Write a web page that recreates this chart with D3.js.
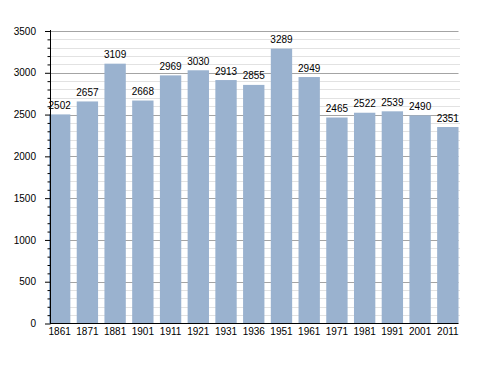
<!DOCTYPE html>
<html><head><meta charset="utf-8">
<script src="https://cdn.jsdelivr.net/npm/d3@7"></script>
<style>body{margin:0;background:#fff}svg{display:block}text{font-family:"Liberation Sans",Arial,sans-serif}</style>
</head><body>
<svg id="c" width="488" height="373"></svg>
<script>
const years = ["1861","1871","1881","1901","1911","1921","1931","1936","1951","1961","1971","1981","1991","2001","2011"];
const population = [2502,2657,3109,2668,2969,3030,2913,2855,3289,2949,2465,2522,2539,2490,2351];
const yTicks = [0,500,1000,1500,2000,2500,3000,3500];

const svg = d3.select("#c");
const x = d3.scaleBand().domain(years).range([49, 458.5]).paddingInner(0.23).paddingOuter(0);
const y = d3.scaleLinear().domain([0, 3500]).range([323.5, 31]);
const minor = d3.range(0, 3501, 100).filter(v => v % 500 !== 0);

// grid
svg.append("g").selectAll("line").data(minor).join("line")
  .attr("x1", 51).attr("x2", 460).attr("y1", d => Math.round(y(d))+0.5).attr("y2", d => Math.round(y(d))+0.5)
  .attr("stroke", "#e2e2e2").attr("stroke-width", 1);
svg.append("g").selectAll("line").data(yTicks.filter(v => v > 0)).join("line")
  .attr("x1", 51).attr("x2", 458.5).attr("y1", d => Math.round(y(d))+0.5).attr("y2", d => Math.round(y(d))+0.5)
  .attr("stroke", "#a4a4a4").attr("stroke-width", 1);

// bars
svg.append("g").selectAll("rect").data(population).join("rect")
  .attr("x", (d,i) => x(years[i])).attr("width", x.bandwidth())
  .attr("y", d => y(d)).attr("height", d => y(0) - y(d))
  .attr("fill", "#9ab2cf");

// value labels
svg.append("g").selectAll("text").data(population).join("text")
  .attr("x", (d,i) => x(years[i]) + x.bandwidth()/2).attr("y", d => y(d) - 5.5)
  .attr("text-anchor", "middle").attr("font-size", 10).attr("fill", "#000").text(d => d);

// y axis
const yAxis = d3.axisLeft(y).tickValues(yTicks).tickSize(5.5).tickPadding(9).tickFormat(d3.format("d"));
const gy = svg.append("g").attr("transform", "translate(50.5,0)").call(yAxis);
gy.select(".domain").attr("d", "M0,30V323.5").attr("stroke", "#000");
gy.selectAll(".tick line").attr("stroke", "#000");
gy.selectAll(".tick text").attr("font-size", 10).attr("font-family", "Liberation Sans, Arial, sans-serif").attr("fill", "#000");
const ym = d3.axisLeft(y).tickValues(minor).tickSize(3).tickFormat("");
const gym = svg.append("g").attr("transform", "translate(50.5,0)").call(ym);
gym.select(".domain").remove();
gym.selectAll(".tick line").attr("stroke", "#000");

// x axis
const xAxis = d3.axisBottom(x).tickSize(0).tickPadding(4.5);
const gx = svg.append("g").attr("transform", "translate(0,323.5)").call(xAxis);
gx.select(".domain").attr("d", "M50,0H458.5").attr("stroke", "#000");
gx.selectAll(".tick text").attr("font-size", 10).attr("font-family", "Liberation Sans, Arial, sans-serif").attr("fill", "#000");
</script>
</body></html>
